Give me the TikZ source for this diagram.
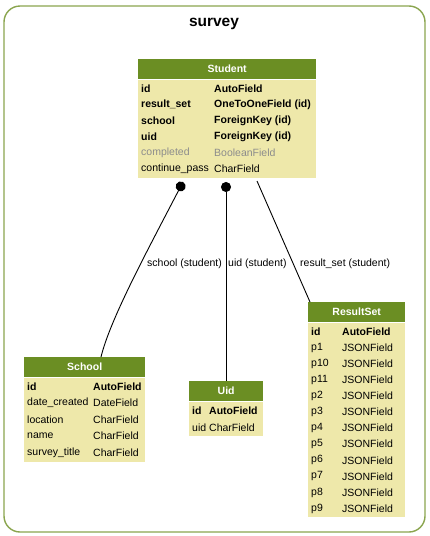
\documentclass[tikz,border=0pt]{standalone}
\usepackage{fontspec}
\setmainfont{Liberation Sans}
\usetikzlibrary{arrows.meta,positioning}
\definecolor{djhead}{HTML}{6B8E23}
\definecolor{djbody}{HTML}{EEE8AA}
\definecolor{djframe}{HTML}{8AA54E}
\definecolor{djgray}{HTML}{8C8C8C}
\tikzset{
  frame/.style={draw=djframe,line width=1.4pt,rounded corners=16pt},
  title/.style={font=\fontsize{15.5}{18}\selectfont\bfseries},
  tblhead/.style={fill=djhead,text=white,inner sep=0pt,anchor=north west,
    font=\fontsize{10.5}{12}\selectfont\bfseries},
  tblbody/.style={fill=djbody,inner sep=0pt,anchor=north west},
  fld/.style={anchor=west,inner sep=0pt,font=\fontsize{10.5}{12}\selectfont},
  keyfld/.style={fld,font=\fontsize{10.5}{12}\selectfont\bfseries},
  offfld/.style={fld,text=djgray},
  rel/.style={line width=0.9pt},
  fkrel/.style={line width=0.9pt,{Circle[length=10pt]}-},
  rellabel/.style={anchor=west,inner sep=0pt,font=\fontsize{10.5}{12}\selectfont}
}
\begin{document}
\begin{tikzpicture}[x=1pt,y=-1pt]
\useasboundingbox (0,0) rectangle (429,536);
\draw[frame] (4,6) rectangle (425,532);
\node[title] (survey) at (214,24) {survey};

% Student
\node[tblhead,minimum width=178pt,minimum height=20pt] (student) at (138,59) {Student};
\node[tblbody,minimum width=178pt,minimum height=98pt] (studentbody) at (student.south west) {};
\foreach \n/\t [count=\i from 0] in {id/AutoField,result\_set/OneToOneField (id),school/ForeignKey (id),uid/ForeignKey (id)}{
  \node[keyfld] (student-n\i) at (141,88.5+16*\i) {\n};
  \node[keyfld] (student-t\i) at (214,88.5+16*\i) {\t};
}
\node[offfld] (student-n4) at (141,152.5) {completed};
\node[offfld] (student-t4) at (214,152.5) {BooleanField};
\node[fld] (student-n5) at (141,168.5) {continue\_pass};
\node[fld] (student-t5) at (214,168.5) {CharField};

% School
\node[tblhead,minimum width=121pt,minimum height=20pt] (school) at (24,357) {School};
\node[tblbody,minimum width=121pt,minimum height=84pt] (schoolbody) at (school.south west) {};
\node[keyfld] (school-n0) at (27,386.5) {id};
\node[keyfld] (school-t0) at (93,386.5) {AutoField};
\foreach \n/\t [count=\i] in {date\_created/DateField,location/CharField,name/CharField,survey\_title/CharField}{
  \node[fld] (school-n\i) at (27,386.5+16.5*\i) {\n};
  \node[fld] (school-t\i) at (93,386.5+16.5*\i) {\t};
}

% Uid
\node[tblhead,minimum width=74pt,minimum height=20pt] (uid) at (189,381) {Uid};
\node[tblbody,minimum width=74pt,minimum height=34pt] (uidbody) at (uid.south west) {};
\node[keyfld] (uid-n0) at (192,410.5) {id};
\node[keyfld] (uid-t0) at (209,410.5) {AutoField};
\node[fld] (uid-n1) at (192,427.5) {uid};
\node[fld] (uid-t1) at (209,427.5) {CharField};

% ResultSet
\node[tblhead,minimum width=97pt,minimum height=20pt] (resultset) at (308,302) {ResultSet};
\node[tblbody,minimum width=97pt,minimum height=194pt] (resultsetbody) at (resultset.south west) {};
\node[keyfld] (resultset-n0) at (311,331.5) {id};
\node[keyfld] (resultset-t0) at (342,331.5) {AutoField};
\foreach \n [count=\i] in {p1,p10,p11,p2,p3,p4,p5,p6,p7,p8,p9}{
  \node[fld] (resultset-n\i) at (311,331.5+16.1*\i) {\n};
  \node[fld] (resultset-t\i) at (342,331.5+16.1*\i) {JSONField};
}

% relations
\coordinate (schoolfk) at (183,182);
\coordinate (uidfk) at (226,182);
\coordinate (resultsetfk) at (257,181);
\draw[fkrel] (schoolfk) .. controls (145,255) and (110,320) .. (school.north -| 101,0);
\draw[fkrel] (uidfk) -- (uidfk |- uid.north);
\draw[rel] (resultsetfk) -- (310,302);
\node[rellabel] (schoollbl) at (147,263.5) {school (student)};
\node[rellabel] (uidlbl) at (228,263.5) {uid (student)};
\node[rellabel] (resultsetlbl) at (300,263.5) {result\_set (student)};
\end{tikzpicture}
\end{document}
